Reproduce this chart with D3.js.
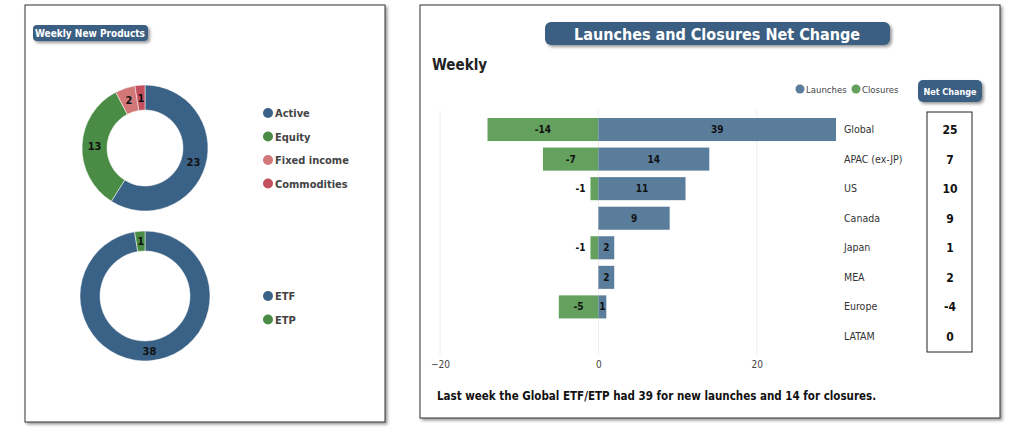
<!DOCTYPE html>
<html><head><meta charset="utf-8">
<script src="https://cdn.jsdelivr.net/npm/d3@7"></script>
<style>body{margin:0;background:#fff;font-family:"DejaVu Sans Condensed","Liberation Sans",sans-serif}</style>
</head><body><div id="plot"></div>
<script>
// donut data
const assetTypes = ["Active", "Equity", "Fixed income", "Commodities"];
const assetValues = [23, 13, 2, 1];
const wrapperTypes = ["ETF", "ETP"];
const wrapperValues = [38, 1];
// regions
const regions = ["Global", "APAC (ex-JP)", "US", "Canada", "Japan", "MEA", "Europe", "LATAM"];
const launches = [39, 14, 11, 9, 2, 2, 1, 0];
const closures = [-14, -7, -1, 0, -1, 0, -5, 0];
const netChange = [25, 7, 10, 9, 1, 2, -4, 0];
const xTicks = [-20, 0, 20];

const w = 1024, h = 435;
const svg = d3.select("#plot").append("svg").attr("width", w).attr("height", h);
const defs = svg.append("defs");
const f = defs.append("filter").attr("id", "sh").attr("x", "-10%").attr("y", "-10%").attr("width", "130%").attr("height", "160%");
f.append("feDropShadow").attr("dx", 2).attr("dy", 2).attr("stdDeviation", 1.5).attr("flood-opacity", 0.4);

// panels
svg.append("rect").attr("x", 25).attr("y", 5).attr("width", 360).attr("height", 417)
  .attr("fill", "#fff").attr("stroke", "#333").attr("filter", "url(#sh)");
svg.append("rect").attr("x", 420).attr("y", 5).attr("width", 580).attr("height", 413)
  .attr("fill", "#fff").attr("stroke", "#333").attr("filter", "url(#sh)");

// left title pill
svg.append("rect").attr("x", 33).attr("y", 25).attr("width", 115).attr("height", 16).attr("rx", 4)
  .attr("fill", "#3a5f82").attr("filter", "url(#sh)");
svg.append("text").attr("x", 90).attr("y", 37).attr("text-anchor", "middle").attr("fill", "#fff")
  .attr("font-size", 10).attr("font-weight", "bold").text("Weekly New Products");

function donut(cx, cy, r0, r1, names, vals, colors, legY, labelFilter) {
  const pie = d3.pie().sort(null)(vals);
  const arc = d3.arc().innerRadius(r0).outerRadius(r1);
  const g = svg.append("g").attr("transform", `translate(${cx},${cy})`);
  g.selectAll("path").data(pie).enter().append("path")
    .attr("d", arc).attr("fill", (d, i) => colors[i]).attr("stroke", "#fff").attr("stroke-width", 0.5);
  const la = d3.arc().innerRadius((r0 + r1) / 2).outerRadius((r0 + r1) / 2);
  g.selectAll("text").data(pie).enter().append("text")
    .attr("transform", d => `translate(${la.centroid(d)})`)
    .attr("text-anchor", "middle").attr("dy", "0.35em")
    .attr("font-size", 11).attr("font-weight", "bold").attr("fill", "#111")
    .text(d => d.value);
  const lg = svg.append("g");
  names.forEach((n, i) => {
    lg.append("circle").attr("cx", 268).attr("cy", legY + i * 23.5).attr("r", 5).attr("fill", colors[i]);
    lg.append("text").attr("x", 275).attr("y", legY + i * 23.5 + 4).attr("font-size", 11)
      .attr("font-weight", "bold").attr("fill", "#444").text(n);
  });
}
donut(145, 148, 38, 63, assetTypes, assetValues, ["#3a6186", "#4a8c45", "#d27878", "#c4505e"], 113);
donut(145, 296, 45, 65, wrapperTypes, wrapperValues, ["#3a6186", "#4a8c45"], 296);

// right title
svg.append("rect").attr("x", 545).attr("y", 22).attr("width", 345).attr("height", 23).attr("rx", 6)
  .attr("fill", "#3a5f82").attr("filter", "url(#sh)");
svg.append("text").attr("x", 717).attr("y", 40).attr("text-anchor", "middle").attr("fill", "#fff")
  .attr("font-size", 16).attr("font-weight", "bold").text("Launches and Closures Net Change");
svg.append("text").attr("x", 432).attr("y", 70).attr("font-size", 15).attr("font-weight", "bold")
  .attr("fill", "#222").text("Weekly");

// legend
[["Launches", "#5a7d9c", 800], ["Closures", "#64a05e", 856]].forEach(([t, c, x]) => {
  svg.append("circle").attr("cx", x).attr("cy", 89).attr("r", 4.5).attr("fill", c);
  svg.append("text").attr("x", x + 6).attr("y", 92.5).attr("font-size", 9.5).attr("fill", "#444").text(t);
});
svg.append("rect").attr("x", 918).attr("y", 80).attr("width", 64).attr("height", 22).attr("rx", 5)
  .attr("fill", "#3a5f82").attr("filter", "url(#sh)");
svg.append("text").attr("x", 950).attr("y", 95).attr("text-anchor", "middle").attr("fill", "#fff")
  .attr("font-size", 9).attr("font-weight", "bold").text("Net Change");

// bars
const x = d3.scaleLinear().domain([-20, 30]).range([440, 836]).clamp(true);
const y = d3.scaleBand().domain(regions).range([118, 348]).paddingInner(0.22);

svg.selectAll(".grid").data(xTicks).enter().append("line")
  .attr("x1", d => x(d)).attr("x2", d => x(d)).attr("y1", 110).attr("y2", 355)
  .attr("stroke", "#eee");

const xAxis = d3.axisBottom(x).tickValues(xTicks).tickSize(0);
svg.append("g").attr("transform", "translate(0,358)").call(xAxis)
  .call(g => g.select(".domain").remove())
  .call(g => g.selectAll("text").attr("font-size", 10).attr("fill", "#444")
    .attr("font-family", "DejaVu Sans Condensed"));

svg.selectAll(".cl").data(regions).enter().append("rect")
  .attr("x", (d, i) => x(closures[i])).attr("y", d => y(d))
  .attr("width", (d, i) => x(0) - x(closures[i])).attr("height", y.bandwidth())
  .attr("fill", "#64a05e");
svg.selectAll(".la").data(regions).enter().append("rect")
  .attr("x", x(0)).attr("y", d => y(d))
  .attr("width", (d, i) => x(launches[i]) - x(0)).attr("height", y.bandwidth())
  .attr("fill", "#5a7d9c");

const lab = svg.append("g").attr("font-size", 10).attr("font-weight", "bold").attr("fill", "#111");
regions.forEach((r, i) => {
  const cy = y(r) + y.bandwidth() / 2 + 3.5;
  if (launches[i] > 0) {
    const wd = x(launches[i]) - x(0);
    lab.append("text").attr("x", wd > 14 ? x(0) + wd / 2 : x(0) + 4).attr("y", cy)
      .attr("text-anchor", "middle").text(launches[i]);
  }
  if (closures[i] < 0) {
    const wd = x(0) - x(closures[i]);
    lab.append("text").attr("x", wd > 20 ? x(closures[i]) + wd / 2 : x(closures[i]) - 10).attr("y", cy)
      .attr("text-anchor", "middle").text(closures[i]);
  }
  svg.append("text").attr("x", 844).attr("y", cy).attr("font-size", 10.5).attr("fill", "#333").text(r);
  svg.append("text").attr("x", 950).attr("y", cy + 1).attr("text-anchor", "middle").attr("font-size", 12)
    .attr("font-weight", "bold").attr("fill", "#111").text(netChange[i]);
});
svg.append("rect").attr("x", 927).attr("y", 112).attr("width", 45).attr("height", 240)
  .attr("fill", "none").attr("stroke", "#222");

svg.append("text").attr("x", 437).attr("y", 400).attr("font-size", 11.5).attr("font-weight", "bold")
  .attr("fill", "#111").text("Last week the Global ETF/ETP had 39 for new launches and 14 for closures.");
</script></body></html>
